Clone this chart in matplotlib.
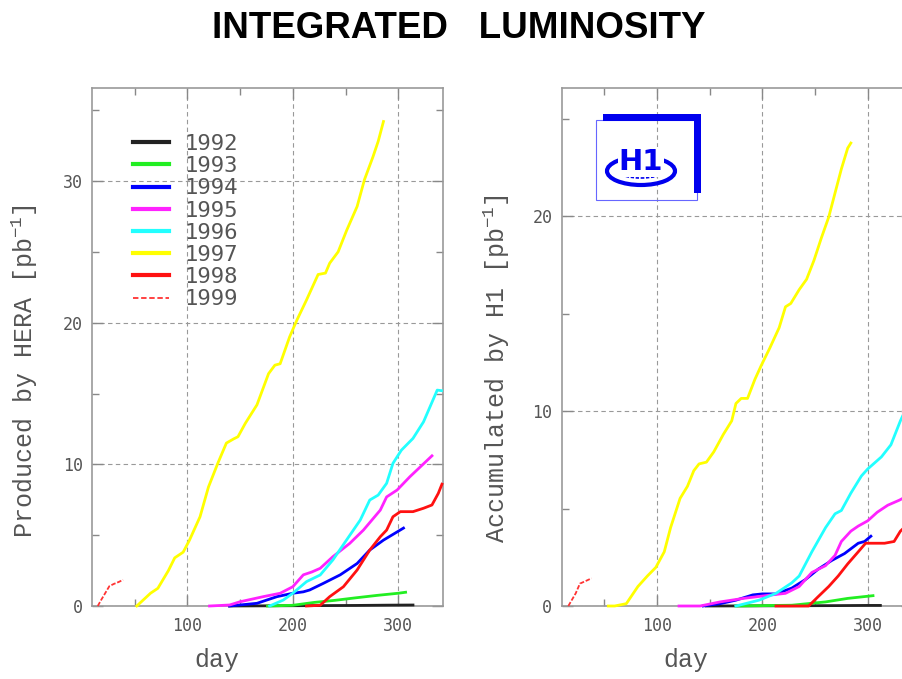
import matplotlib
matplotlib.use("Agg")
import matplotlib.pyplot as plt
from matplotlib.patches import Rectangle, Ellipse
from matplotlib.lines import Line2D
from matplotlib.ticker import MultipleLocator

plt.rcParams["mathtext.fontset"] = "custom"
plt.rcParams["mathtext.rm"] = "Liberation Mono"
plt.rcParams["mathtext.it"] = "Liberation Mono"

# ------------------------------
# Integrated luminosity per year (day of year, pb^-1)
# left: produced by HERA, right: accumulated by H1
# ------------------------------
years = ["1992", "1993", "1994", "1995", "1996", "1997", "1998", "1999"]
colors = ["#222222", "#22ee22", "#0000ff", "#ff22ff", "#22ffff", "#ffff00", "#ff1111", "#ff3333"]

hera_1992_day = [140, 170, 200, 230, 260, 290, 314]
hera_1992_lumi = [0, 0.01, 0.02, 0.03, 0.04, 0.06, 0.07]
hera_1993_day = [176, 200, 220, 240, 260, 280, 300, 307]
hera_1993_lumi = [0, 0.05, 0.25, 0.4, 0.58, 0.75, 0.9, 0.97]
hera_1994_day = [140, 166, 185, 200, 210, 216, 229, 245, 261, 273, 286, 305]
hera_1994_lumi = [0, 0.19, 0.66, 0.9, 1.0, 1.13, 1.6, 2.2, 3.0, 3.95, 4.65, 5.5]
hera_1995_day = [121, 140, 150, 172, 188, 200, 210, 218, 226, 238, 254, 267, 283, 289, 299, 311, 332]
hera_1995_lumi = [0, 0.07, 0.3, 0.66, 0.9, 1.36, 2.2, 2.4, 2.66, 3.48, 4.42, 5.36, 6.77, 7.7, 8.19, 9.12, 10.6]
hera_1996_day = [178, 191, 200, 213, 226, 238, 251, 264, 273, 281, 289, 295, 303, 314, 324, 337, 341]
hera_1996_lumi = [0, 0.42, 0.9, 1.72, 2.19, 3.25, 4.66, 6.07, 7.48, 7.83, 8.66, 10.07, 11.0, 11.83, 13.0, 15.24, 15.2]
hera_1997_day = [52, 65, 72, 82, 88, 96, 102, 112, 120, 129, 137, 144, 148, 155, 166, 177, 183, 188,
                 197, 204, 213, 224, 231, 235, 243, 251, 261, 268, 276, 281, 286]
hera_1997_lumi = [0, 0.9, 1.25, 2.5, 3.4, 3.8, 4.65, 6.3, 8.4, 10.1, 11.5, 11.8, 11.95, 12.9, 14.2, 16.4, 17.0, 17.1,
                  19.0, 20.2, 21.6, 23.4, 23.5, 24.2, 25.0, 26.5, 28.2, 30.1, 31.7, 32.8, 34.2]
hera_1998_day = [213, 226, 235, 248, 261, 273, 283, 289, 295, 302, 314, 324, 332, 338, 341.5]
hera_1998_lumi = [0, 0.05, 0.66, 1.36, 2.54, 3.95, 4.89, 5.36, 6.3, 6.66, 6.66, 6.9, 7.13, 7.95, 8.6]
hera_1999_day = [15, 18, 22, 26, 30, 35, 39]
hera_1999_lumi = [0, 0.4, 0.9, 1.4, 1.55, 1.7, 1.85]

h1_1992_day = [147, 180, 210, 240, 270, 300, 312]
h1_1992_lumi = [0, 0.005, 0.01, 0.015, 0.02, 0.03, 0.03]
h1_1993_day = [175, 228, 260, 281, 305]
h1_1993_lumi = [0, 0.04, 0.21, 0.39, 0.53]
h1_1994_day = [144, 160, 175, 191, 200, 213, 228, 241, 253, 266, 278, 291, 297, 303]
h1_1994_lumi = [0, 0.12, 0.3, 0.57, 0.62, 0.62, 0.92, 1.36, 1.89, 2.34, 2.69, 3.22, 3.31, 3.58]
h1_1995_day = [121, 141, 160, 182, 203, 222, 235, 247, 260, 269, 275, 284, 291, 300, 309, 319, 330, 336]
h1_1995_lumi = [0, 0, 0.21, 0.39, 0.53, 0.65, 1.0, 1.72, 2.07, 2.6, 3.31, 3.84, 4.1, 4.37, 4.81, 5.17, 5.43, 5.6]
h1_1996_day = [175, 197, 213, 228, 235, 247, 260, 269, 275, 284, 294, 300, 313, 322, 331, 337]
h1_1996_lumi = [0, 0.3, 0.65, 1.19, 1.54, 2.78, 4.02, 4.73, 4.9, 5.79, 6.67, 7.03, 7.65, 8.27, 9.5, 10.2]
h1_1997_day = [54, 60, 71, 82, 91, 99, 107, 113, 122, 129, 135, 140, 147, 154, 163, 171, 175, 180, 186,
               193, 199, 207, 216, 222, 227, 235, 242, 249, 256, 263, 269, 275, 281, 284]
h1_1997_lumi = [0, 0, 0.12, 1.0, 1.54, 1.98, 2.78, 4.02, 5.52, 6.14, 6.94, 7.29, 7.38, 7.91, 8.8, 9.5, 10.39, 10.65, 10.65,
                11.63, 12.34, 13.22, 14.28, 15.35, 15.52, 16.23, 16.76, 17.73, 18.88, 19.95, 21.19, 22.42, 23.49, 23.75]
h1_1998_day = [213, 244, 253, 263, 272, 281, 291, 298, 303, 316, 325, 331, 340]
h1_1998_lumi = [0, 0, 0.48, 1.0, 1.54, 2.16, 2.78, 3.22, 3.22, 3.22, 3.31, 3.84, 4.3]
h1_1999_day = [16, 23, 27, 32, 38]
h1_1999_lumi = [0, 0.65, 1.15, 1.27, 1.42]

hera_days = [hera_1992_day, hera_1993_day, hera_1994_day, hera_1995_day,
             hera_1996_day, hera_1997_day, hera_1998_day, hera_1999_day]
hera_lumi = [hera_1992_lumi, hera_1993_lumi, hera_1994_lumi, hera_1995_lumi,
             hera_1996_lumi, hera_1997_lumi, hera_1998_lumi, hera_1999_lumi]
h1_days = [h1_1992_day, h1_1993_day, h1_1994_day, h1_1995_day,
           h1_1996_day, h1_1997_day, h1_1998_day, h1_1999_day]
h1_lumi = [h1_1992_lumi, h1_1993_lumi, h1_1994_lumi, h1_1995_lumi,
           h1_1996_lumi, h1_1997_lumi, h1_1998_lumi, h1_1999_lumi]

W, H = 903, 679
fig = plt.figure(figsize=(W / 100, H / 100), dpi=100)

ax_w = 350 / W
ax_h = (606 - 87.5) / H
ax_b = 1 - 606 / H
ax1 = fig.add_axes([92.5 / W, ax_b, ax_w, ax_h])
ax2 = fig.add_axes([562 / W, ax_b, ax_w, ax_h])

tick_font = {"family": "DejaVu Sans Mono", "size": 12}
label_font = {"family": "Liberation Mono", "size": 18, "color": "#555555"}


def style_axes(ax, ymax):
    ax.set_xlim(10, 342)
    ax.set_ylim(0, ymax)
    ax.xaxis.set_major_locator(MultipleLocator(100))
    ax.xaxis.set_minor_locator(MultipleLocator(50))
    ax.yaxis.set_major_locator(MultipleLocator(10))
    ax.yaxis.set_minor_locator(MultipleLocator(5))
    ax.tick_params(which="both", direction="in", top=True, right=True, colors="#888888",
                   labelcolor="#555555", width=1.0)
    ax.tick_params(which="major", length=8)
    ax.tick_params(which="minor", length=5)
    ax.tick_params(axis="x", pad=8)
    ax.tick_params(axis="y", pad=7)
    for lab in ax.get_xticklabels() + ax.get_yticklabels():
        lab.set_fontfamily(tick_font["family"])
        lab.set_fontsize(tick_font["size"])
    ax.grid(True, which="major", color="#999999", linestyle=(0, (4, 3)), linewidth=0.8)
    for sp in ax.spines.values():
        sp.set_color("#999999")
        sp.set_linewidth(1.2)
    ax.set_xlabel("day", fontdict=label_font, va="center")
    ax.xaxis.set_label_coords(0.355, -0.104)


for ax, days, lumi in [(ax1, hera_days, hera_lumi), (ax2, h1_days, h1_lumi)]:
    for i, year in enumerate(years):
        if year == "1999":
            ax.plot(days[i], lumi[i], color=colors[i], lw=1.3, ls=(0, (2.5, 1)), zorder=3, clip_on=False)
        else:
            ax.plot(days[i], lumi[i], color=colors[i], lw=2.0, zorder=3, clip_on=False)

style_axes(ax1, 36.6)
style_axes(ax2, 26.6)

ax1.set_ylabel("Produced by HERA [pb$^{-1}$]", fontdict=label_font, va="center")
ax1.yaxis.set_label_coords(-0.193, 0.453)
ax2.set_ylabel("Accumulated by H1 [pb$^{-1}$]", fontdict=label_font, va="center")
ax2.yaxis.set_label_coords(-0.186, 0.459)

# legend
handles = []
for i, year in enumerate(years):
    if year == "1999":
        handles.append(Line2D([], [], color=colors[i], lw=1.3, ls=(0, (3, 1.5))))
    else:
        handles.append(Line2D([], [], color=colors[i], lw=3))
leg = ax1.legend(handles, years, loc="upper left", bbox_to_anchor=(0.085, 0.932), frameon=False,
                 prop={"family": "DejaVu Sans Mono", "size": 16}, handlelength=1.6,
                 handletextpad=0.7, labelspacing=0.1, borderpad=0)
for t in leg.get_texts():
    t.set_color("#555555")

# title
fig.text(0.508, 0.958, "INTEGRATED   LUMINOSITY", ha="center", va="center",
         fontsize=26.5, fontweight="bold", family="Liberation Sans")

# H1 logo
def px(x, y):
    return x / W, 1 - y / H

fig.patches.append(Rectangle(px(596, 200), 101 / W, 80 / H, transform=fig.transFigure,
                             fill=False, edgecolor="#6666ff", lw=0.8))
fig.patches.append(Rectangle(px(603, 121), 98 / W, 7 / H, transform=fig.transFigure,
                             facecolor="#0000ee", edgecolor="none"))
fig.patches.append(Rectangle(px(694, 193), 7 / W, 79 / H, transform=fig.transFigure,
                             facecolor="#0000ee", edgecolor="none"))
fig.patches.append(Ellipse(px(641, 171), 68 / W, 28 / H, transform=fig.transFigure,
                           fill=False, edgecolor="#0000ee", lw=3))
fig.patches.append(Ellipse(px(641, 172), 44 / W, 12 / H, transform=fig.transFigure,
                           fill=False, edgecolor="#0000ee", lw=1.2, ls=(0, (2, 1))))
fig.text(*px(641, 162), "H1", ha="center", va="center", color="#0000ee",
         fontsize=21, fontweight="bold", family="Liberation Sans Narrow",
         bbox=dict(facecolor="white", edgecolor="none", pad=0.5))

fig.savefig("out.png", dpi=100)
